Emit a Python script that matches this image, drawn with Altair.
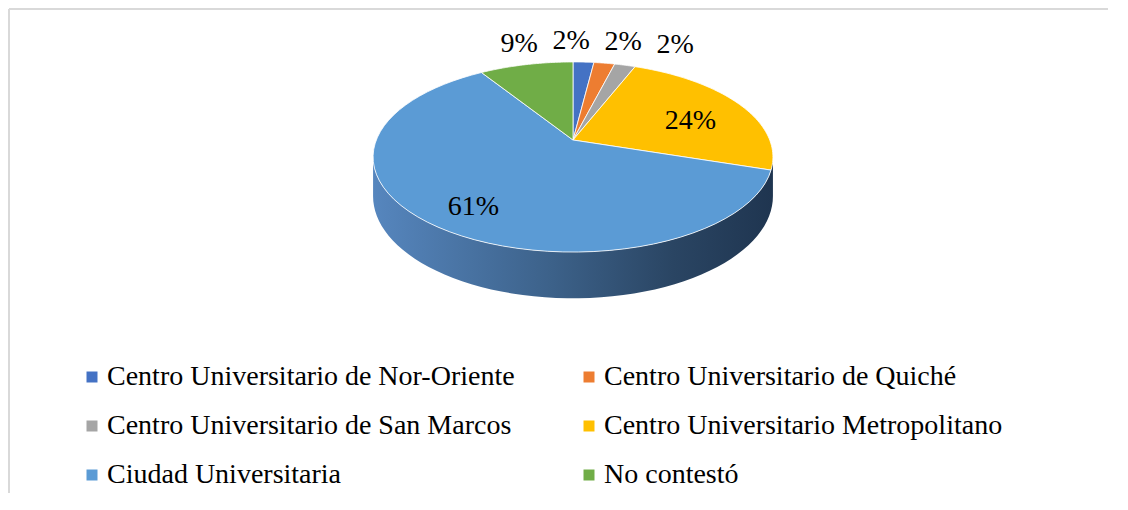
import altair as alt
import pandas as pd

# ---- data ----
categories = [
    "Centro Universitario de Nor-Oriente",
    "Centro Universitario de Quiché",
    "Centro Universitario de San Marcos",
    "Centro Universitario Metropolitano",
    "Ciudad Universitaria",
    "No contestó",
]
values = [2, 2, 2, 24, 61, 9]
colors = ["#4472C4", "#ED7D31", "#A5A5A5", "#FFC000", "#5B9BD5", "#70AD47"]

df = pd.DataFrame({"cat": categories, "value": values, "ord": list(range(len(categories)))})

# ---- geometry / style ----
W, H = 1097, 482
A = 0.9835   # horizontal radius (units)
T = 0.46     # vertical radius (units)
P = 0.179    # perspective factor
D = 0.19     # depth of the pie wall
N = 60       # points per arc
SPREAD = 0.26
SERIF = "Liberation Serif, Times New Roman, serif"

xscale = alt.Scale(domain=[-2.81, 2.675], nice=False, zero=False)
yscale = alt.Scale(domain=[-1.765, 0.645], nice=False, zero=False)

base = alt.Chart(df).transform_window(
    cum="sum(value)", sort=[alt.SortField("ord")], frame=[None, 0]
).transform_joinaggregate(total="sum(value)").transform_calculate(
    a0="2*PI*(datum.cum - datum.value)/datum.total"
).transform_calculate(
    a1="2*PI*datum.cum/datum.total"
)

# side wall of the pie (front half)
wall = alt.Chart(alt.sequence(0, 2 * N, as_="k")).transform_calculate(
    w0=f"acos(-{P})"
).transform_calculate(
    w1="2*PI - datum.w0"
).transform_calculate(
    bot=f"datum.k >= {N} ? 1 : 0"
).transform_calculate(
    th=f"datum.bot == 0 ? datum.w0 + (datum.w1 - datum.w0) * datum.k / {N-1} : datum.w1 - (datum.w1 - datum.w0) * (datum.k - {N}) / {N-1}"
).transform_calculate(
    s=f"1/(1 + {P}*cos(datum.th))"
).transform_calculate(
    px=f"{A} * sin(datum.th) * datum.s"
).transform_calculate(
    py=f"{T} * cos(datum.th) * datum.s - datum.bot * {D} * datum.s"
).mark_line(
    filled=True,
    strokeOpacity=0,
    fill=alt.Gradient(
        gradient="linear",
        stops=[
            alt.GradientStop(color="#5686be", offset=0),
            alt.GradientStop(color="#3c6189", offset=0.45),
            alt.GradientStop(color="#2a4563", offset=0.75),
            alt.GradientStop(color="#1f3550", offset=1),
        ],
        x1=0, x2=1, y1=0, y2=0,
    ),
).encode(
    x=alt.X("px:Q", scale=xscale, axis=None),
    y=alt.Y("py:Q", scale=yscale, axis=None),
    order="k:Q",
)

# top faces
top = base.transform_calculate(
    k=f"sequence(0, {N + 2})"
).transform_flatten(["k"]).transform_calculate(
    th=f"datum.a0 + (datum.a1 - datum.a0) * clamp(datum.k - 1, 0, {N-1}) / {N-1}"
).transform_calculate(
    c=f"(datum.k == 0 || datum.k == {N + 1}) ? 0 : 1"
).transform_calculate(
    s=f"1/(1 + {P}*cos(datum.th))"
).transform_calculate(
    px=f"datum.c * {A} * sin(datum.th) * datum.s"
).transform_calculate(
    py=f"datum.c * {T} * cos(datum.th) * datum.s"
).mark_line(
    filled=True, stroke="#ffffff", strokeWidth=1, strokeJoin="round", strokeOpacity=0.8
).encode(
    x=alt.X("px:Q", scale=xscale, axis=None),
    y=alt.Y("py:Q", scale=yscale, axis=None),
    order="k:Q",
    fill=alt.Fill(
        "cat:N",
        scale=alt.Scale(domain=categories, range=colors),
        legend=alt.Legend(
            title=None,
            orient="none",
            legendX=67,
            legendY=352,
            columns=2,
            direction="horizontal",
            symbolType="square",
            symbolSize=121,
            symbolStrokeWidth=0,
            symbolOpacity=1,
            labelFont=SERIF,
            labelFontSize=28,
            labelColor="#000000",
            labelOffset=1,
            labelLimit=1000,
            rowPadding=21,
            columnPadding=60,
            padding=0,
        ),
    ),
)

# percentage labels
labels = base.transform_calculate(
    mid="(datum.a0 + datum.a1)/2"
).transform_calculate(
    inside="datum.value >= 20 ? 1 : 0"
).transform_calculate(
    s=f"1/(1 + {P}*cos(datum.mid))"
).transform_calculate(
    r="datum.inside == 1 ? 0.71 : 1.3"
).transform_calculate(
    lx0=f"{A} * datum.r * sin(datum.mid) * datum.s"
).transform_calculate(
    ly=f"{T} * datum.r * cos(datum.mid) * datum.s - (datum.inside == 1 ? 0.035 : 0.01)"
).transform_window(
    rk="row_number()", groupby=["inside"], sort=[alt.SortField("lx0")]
).transform_joinaggregate(
    mx="mean(lx0)", n="count()", groupby=["inside"]
).transform_calculate(
    lx=f"datum.inside == 1 ? datum.lx0 : datum.mx + 0.045 + (datum.rk - 1 - (datum.n - 1)/2) * {SPREAD}"
).transform_calculate(
    txt="datum.value + '%'"
).mark_text(
    font=SERIF, fontSize=28, color="#000000", align="center", baseline="middle"
).encode(
    x=alt.X("lx:Q", scale=xscale, axis=None),
    y=alt.Y("ly:Q", scale=yscale, axis=None),
    text="txt:N",
)

frame_df = pd.DataFrame({"z": [0]})
frame_top = alt.Chart(frame_df).mark_rule(color="#d9d9d9", strokeWidth=2).encode(
    x=alt.value(-2), x2=alt.value(W), y=alt.value(-2)
)
frame_left = alt.Chart(frame_df).mark_rule(color="#d9d9d9", strokeWidth=2).encode(
    x=alt.value(-2), y=alt.value(-2), y2=alt.value(H)
)

chart = alt.layer(frame_top, frame_left, wall, top, labels).properties(
    width=W,
    height=H,
    autosize=alt.AutoSizeParams(type="none"),
    padding={"left": 3, "top": 3, "right": 0, "bottom": 0},
).configure_view(stroke=None)

chart.save("out.html", embed_options={"renderer": "svg", "actions": False})
